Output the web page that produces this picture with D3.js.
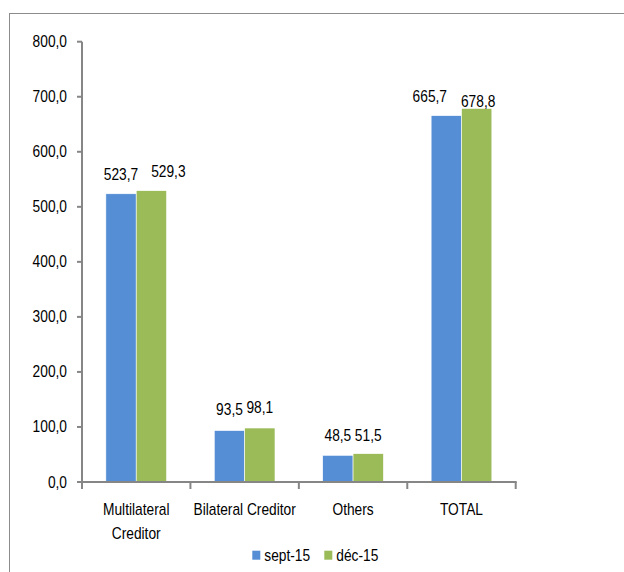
<!DOCTYPE html>
<html>
<head>
<meta charset="utf-8">
<script src="https://cdn.jsdelivr.net/npm/d3@7"></script>
<style>
  body { margin: 0; background: #fff; }
  text { font-family: "Liberation Sans", Arial, sans-serif; font-size: 16px; fill: #000; }
</style>
</head>
<body>
<div id="chart"></div>
<script>
const categories = [["Multilateral", "Creditor"], ["Bilateral Creditor"], ["Others"], ["TOTAL"]];
const seriesNames = ["sept-15", "déc-15"];
const sept15 = [523.7, 93.5, 48.5, 665.7];
const dec15 = [529.3, 98.1, 51.5, 678.8];
const yTicks = [0, 100, 200, 300, 400, 500, 600, 700, 800];
const colors = ["#558ED5", "#9BBB59"];

const squeeze = 0.86; // narrow the font a bit, like Calibri

// where excel moved the value labels to dodge each other [dx, dy]
const nudge = [
    [[0, -13.5], [17, -13.3]],
    [[0, -16], [0, -15]],
    [[0, -14.6], [0, -13]],
    [[-16.5, -14], [1.5, -1.5]]
];

const svg = d3.select("#chart").append("svg")
    .attr("width", 624)
    .attr("height", 572);

// outer frame
svg.append("rect")
    .attr("x", 9.5).attr("y", 13.5)
    .attr("width", 640).attr("height", 600)
    .attr("fill", "none").attr("stroke", "#8c8c8c");

const left = 82, right = 515.7;
const x0 = d3.scaleBand().domain(d3.range(categories.length)).range([left, right]).paddingInner(0.44).paddingOuter(0.22);
const x1 = d3.scaleBand().domain([0, 1]).range([0, x0.bandwidth()]);
const xEdge = d3.scaleLinear().domain([0, categories.length]).range([left, right]);
const y = d3.scaleLinear().domain([0, 800]).range([482, 41.7]);

const fmt = v => d3.format(".1f")(v).replace(".", ",");

function label(sel, x, yy, anchor) {
    return sel.append("text")
        .attr("transform", `translate(${x},${yy}) scale(${squeeze},1)`)
        .attr("text-anchor", anchor || "middle");
}

// y axis
svg.append("line")
    .attr("x1", left).attr("x2", left).attr("y1", y(800)).attr("y2", y(0))
    .attr("stroke", "#868686").attr("stroke-width", 2);
yTicks.forEach(t => {
    svg.append("line")
        .attr("x1", left - 5).attr("x2", left).attr("y1", y(t)).attr("y2", y(t))
        .attr("stroke", "#868686").attr("stroke-width", 2);
    label(svg, 67, y(t) + 5.5, "end").text(fmt(t));
});

// bars
const data = categories.map((c, i) => [sept15[i], dec15[i]]);
const groups = svg.selectAll(".grp").data(data).enter().append("g")
    .attr("transform", (d, i) => `translate(${x0(i)},0)`);

groups.selectAll("rect").data(d => d).enter().append("rect")
    .attr("x", (d, j) => x1(j))
    .attr("y", d => y(d))
    .attr("width", x1.bandwidth())
    .attr("height", d => y(0) - y(d))
    .attr("fill", (d, j) => colors[j])
    .attr("stroke", "#fff").attr("stroke-width", 0.6);

groups.each(function (d, i) {
    const g = d3.select(this);
    d.forEach((v, j) => {
        const [dx, dy] = nudge[i][j];
        label(g, x1(j) + x1.bandwidth() / 2 + dx, y(v) + dy).text(fmt(v));
    });
});

// x axis line and ticks
svg.append("line")
    .attr("x1", left - 1).attr("x2", right + 1).attr("y1", y(0)).attr("y2", y(0))
    .attr("stroke", "#868686").attr("stroke-width", 2);
d3.range(categories.length + 1).forEach(k => {
    svg.append("line")
        .attr("x1", xEdge(k)).attr("x2", xEdge(k))
        .attr("y1", y(0)).attr("y2", y(0) + 7)
        .attr("stroke", "#868686").attr("stroke-width", 2);
});

// category labels
categories.forEach((lines, i) => {
    lines.forEach((s, k) => {
        label(svg, xEdge(i + 0.5), 515 + k * 24).text(s);
    });
});

// legend
const legendX = [252.3, 324.3];
seriesNames.forEach((s, i) => {
    svg.append("rect")
        .attr("x", legendX[i]).attr("y", 550.7)
        .attr("width", 8).attr("height", 9)
        .attr("fill", colors[i]);
    label(svg, legendX[i] + 12, 560.5, "start").text(s);
});
</script>
</body>
</html>
